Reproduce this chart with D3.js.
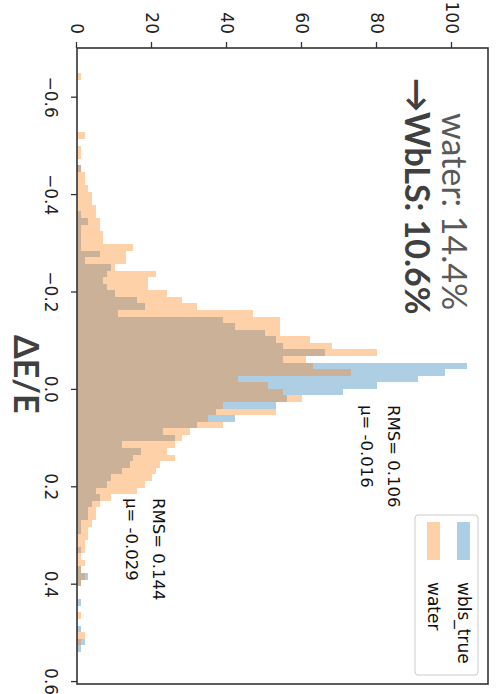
<!DOCTYPE html>
<html>
<head>
<meta charset="utf-8">
<script src="https://cdn.jsdelivr.net/npm/d3@7"></script>
<style>
  html, body { margin: 0; padding: 0; background: #fff; }
  svg { display: block; }
</style>
</head>
<body>
<svg id="chart" width="498" height="694"></svg>
<script>
// Histogram binning of ΔE/E (shared by both samples)
const binStart = -0.648;
const binWidth = 0.0135;

// Event counts per bin, wbls_true sample
const wblsCounts = [
  0, 0, 0, 0, 0, 0, 0, 0, 0, 0,
  0, 0, 0, 0, 1, 0, 0, 0, 0, 0,
  0, 1, 3, 1, 1, 1, 1, 6, 2, 9,
  8, 7, 8, 10, 16, 18, 11, 39, 42, 50,
  53, 55, 66, 55, 104, 98, 91, 80, 71, 56,
  53, 37, 42, 32, 23, 26, 12, 17, 15, 14,
  12, 9, 8, 5, 6, 4, 3, 3, 1, 1,
  0, 0, 1, 0, 0, 1, 3, 1, 0, 0,
  1, 0, 0, 0, 1, 0, 2, 1, 0, 0
];

// Event counts per bin, water sample
const waterCounts = [
  1, 0, 0, 0, 0, 0, 0, 0, 0, 2,
  0, 1, 1, 0, 1, 2, 2, 3, 4, 4,
  5, 5, 6, 6, 7, 7, 15, 13, 13, 10,
  21, 19, 19, 24, 28, 32, 47, 54, 54, 54,
  62, 68, 80, 61, 63, 73, 43, 51, 55, 60,
  39, 53, 35, 39, 30, 28, 26, 24, 26, 22,
  21, 20, 18, 16, 9, 6, 5, 5, 4, 3,
  3, 2, 2, 1, 2, 1, 2, 1, 0, 0,
  0, 0, 1, 0, 0, 2, 1, 0, 0, 0
];

const deTicks = [-0.6, -0.4, -0.2, 0.0, 0.2, 0.4, 0.6];
const countTicks = [0, 20, 40, 60, 80, 100];
const seriesNames = ["wbls_true", "water"];
const seriesColors = ["#1f77b4", "#ff7f0e"];
const wblsStats = ["RMS= 0.106", "\u03bc= -0.016"];
const waterStats = ["RMS= 0.144", "\u03bc= -0.029"];
const resolutionLines = ["water: 14.4%", "\u2192WbLS: 10.6%"];
const axisTitle = "\u0394E/E";

// The plot is laid out landscape (694 x 498) and turned a quarter turn clockwise.
const W = 694, H = 498;
const svg = d3.select("#chart");
const g = svg.append("g").attr("transform", `translate(${H},0) rotate(90)`);

const plot = { left: 48, right: 684, top: 10, bottom: 421 };

const x = d3.scaleLinear().domain([-0.7, 0.606]).range([plot.left, plot.right]);
const y = d3.scaleLinear().domain([0, 109.6]).range([plot.bottom, plot.top]);

const edges = d3.range(wblsCounts.length + 1).map(i => binStart + i * binWidth);

function stepData(counts) {
  const pts = counts.map((c, i) => ({ x0: edges[i], c }));
  pts.push({ x0: edges[counts.length], c: counts[counts.length - 1] });
  return pts;
}

const area = d3.area()
  .x(d => x(d.x0))
  .y0(y(0))
  .y1(d => y(d.c))
  .curve(d3.curveStepAfter);

const alpha = 0.36;
[wblsCounts, waterCounts].forEach((counts, k) => {
  g.append("path")
    .datum(stepData(counts))
    .attr("d", area)
    .attr("fill", seriesColors[k])
    .attr("fill-opacity", alpha)
    .attr("shape-rendering", "crispEdges");
});

// Axes
const tickFont = "'DejaVu Sans', sans-serif";
const xAxis = g.append("g")
  .attr("transform", `translate(0,${plot.bottom})`)
  .call(d3.axisBottom(x).tickValues(deTicks).tickFormat(d3.format(".1f")).tickSize(6).tickPadding(14));
const yAxis = g.append("g")
  .attr("transform", `translate(${plot.left},0)`)
  .call(d3.axisLeft(y).tickValues(countTicks).tickFormat(d3.format("d")).tickSize(6).tickPadding(8));

[xAxis, yAxis].forEach(ax => {
  ax.select(".domain").remove();
  ax.selectAll("line").attr("stroke", "#333").attr("stroke-width", 1.3);
  ax.selectAll("text").attr("font-family", tickFont).attr("font-size", 17).attr("fill", "#222");
});

// Frame
g.append("rect")
  .attr("x", plot.left).attr("y", plot.top)
  .attr("width", plot.right - plot.left).attr("height", plot.bottom - plot.top)
  .attr("fill", "none").attr("stroke", "#333").attr("stroke-width", 1.6);

// Axis title
g.append("text")
  .attr("x", 335).attr("y", 484)
  .attr("font-family", "Lato, 'DejaVu Sans', sans-serif")
  .attr("font-weight", "bold").attr("font-size", 34)
  .attr("fill", "#404040")
  .text(axisTitle);

// Resolution summary
g.append("text")
  .attr("x", 113).attr("y", 56)
  .attr("font-family", "Lato, 'DejaVu Sans', sans-serif")
  .attr("font-size", 34).attr("fill", "#595959")
  .text(resolutionLines[0]);
g.append("text")
  .attr("x", 78).attr("y", 93)
  .attr("font-family", "Lato, 'DejaVu Sans', sans-serif")
  .attr("font-weight", "bold").attr("font-size", 34).attr("fill", "#404040")
  .text(resolutionLines[1]);

// Per-sample statistics
const statFont = "'DejaVu Sans', sans-serif";
[[wblsStats, 405, 110], [waterStats, 498, 345]].forEach(([lines, sx, sy]) => {
  lines.forEach((t, j) => {
    g.append("text")
      .attr("x", sx).attr("y", sy + j * 27)
      .attr("font-family", statFont).attr("font-size", 16.5).attr("fill", "#111")
      .text(t);
  });
});

// Legend
const lg = g.append("g").attr("transform", "translate(515,20)");
lg.append("rect")
  .attr("width", 160).attr("height", 63).attr("rx", 3)
  .attr("fill", "#fff").attr("fill-opacity", 0.8)
  .attr("stroke", "#ccc").attr("stroke-width", 1);
seriesNames.forEach((name, k) => {
  const row = lg.append("g").attr("transform", `translate(7,${8 + k * 30})`);
  row.append("rect")
    .attr("width", 38).attr("height", 13)
    .attr("fill", seriesColors[k]).attr("fill-opacity", alpha);
  row.append("text")
    .attr("x", 60).attr("y", 12)
    .attr("font-family", statFont).attr("font-size", 17).attr("fill", "#111")
    .text(name);
});
</script>
</body>
</html>
